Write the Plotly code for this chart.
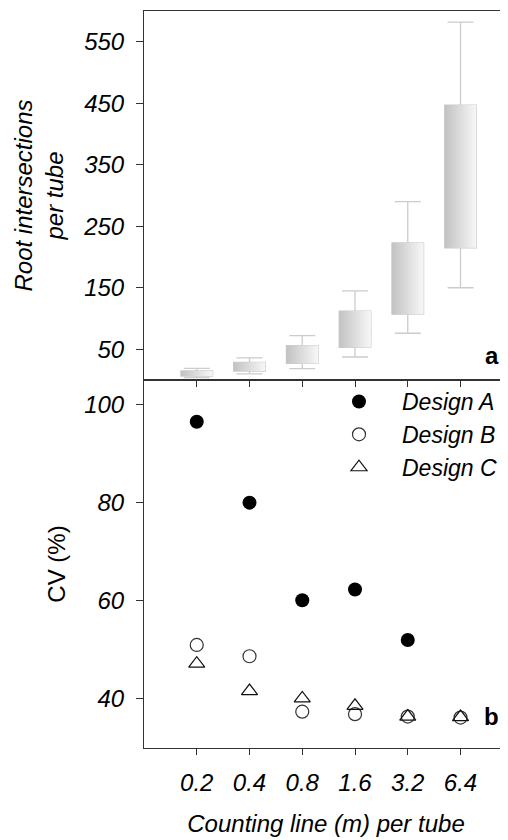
import plotly.graph_objects as go

# ---- data ----
categories = ["0.2", "0.4", "0.8", "1.6", "3.2", "6.4"]
positions = [1, 2, 3, 4, 5, 6]

# panel a: root intersections per tube (box statistics)
upper_whisker = [19, 36, 72, 145, 290, 582]
q3_vals = [14.6, 28.7, 56, 112, 223, 447]
median_vals = [10.8, 21.7, 40.6, 80, 159, 319]
q1_vals = [6.5, 14.6, 27, 53, 107, 215]
lower_whisker = [3.7, 9.8, 18.4, 37.4, 76, 150]

# panel b: CV (%)
design_a = [96.5, 80.0, 60.1, 62.3, 52.0, None]
design_b = [51.0, 48.7, 37.4, 36.9, 36.4, 36.2]
design_c = [47.2, 41.6, 40.1, 38.6, 36.4, 36.3]

FONT = "Liberation Sans, Arial, sans-serif"
AX = "#333333"
BOX_W = 0.6

fig = go.Figure()

# gradient box bodies
for p, lo, hi in zip(positions, q1_vals, q3_vals):
    fig.add_trace(go.Scatter(
        x=[p - BOX_W / 2, p + BOX_W / 2, p + BOX_W / 2, p - BOX_W / 2, p - BOX_W / 2],
        y=[lo, lo, hi, hi, lo],
        mode="lines", fill="toself", line=dict(width=0),
        fillgradient=dict(type="horizontal",
                          colorscale=[[0, "#c2c2c2"], [1, "#f7f7f7"]]),
        showlegend=False, hoverinfo="skip", xaxis="x", yaxis="y2"))

# box outlines, medians, whiskers
fig.add_trace(go.Box(
    x=positions, q1=q1_vals, median=median_vals, q3=q3_vals,
    lowerfence=lower_whisker, upperfence=upper_whisker,
    width=BOX_W, whiskerwidth=0.82, boxpoints=False,
    line=dict(color="#cccccc", width=1.3), fillcolor="rgba(0,0,0,0)",
    showlegend=False, xaxis="x", yaxis="y2"))

# panel b scatter
fig.add_trace(go.Scatter(
    x=positions, y=design_a, mode="markers", name="Design A",
    marker=dict(symbol="circle", size=14, color="black"),
    xaxis="x2", yaxis="y"))
fig.add_trace(go.Scatter(
    x=positions, y=design_b, mode="markers", name="Design B",
    marker=dict(symbol="circle-open", size=13, color="#333333",
                line=dict(width=1.2, color="#333333")),
    xaxis="x2", yaxis="y"))
fig.add_trace(go.Scatter(
    x=positions, y=design_c, mode="markers", name="Design C",
    marker=dict(symbol="triangle-up-open", size=14, color="#111111",
                line=dict(width=1.2, color="#111111")),
    xaxis="x2", yaxis="y"))

split = 368 / 737
tickfont = dict(family=FONT, size=24, color="black", style="italic")

common_x = dict(range=[0, 6.9], tickvals=positions, ticktext=categories,
                showline=True, mirror=True, linecolor=AX, linewidth=1,
                ticks="outside", ticklen=6, tickcolor=AX, showgrid=False,
                zeroline=False, tickfont=tickfont)

# page body adds an 8px offset, so the figure is 8px smaller than the window
fig.update_layout(
    width=500, height=832,
    margin=dict(l=136, r=0, t=3, b=92),
    plot_bgcolor="white", paper_bgcolor="white",
    font=dict(family=FONT, size=24, color="black"),
    xaxis=dict(**common_x, anchor="y2", showticklabels=False),
    xaxis2=dict(**common_x, anchor="y", matches="x", ticklabelstandoff=7,
                title=dict(text="Counting line (m) per tube",
                           font=dict(family=FONT, size=24, style="italic"),
                           standoff=20)),
    yaxis2=dict(domain=[split, 1], range=[0, 600],
                tickvals=[50, 150, 250, 350, 450, 550],
                showline=True, linecolor=AX, linewidth=1, ticks="outside",
                ticklen=7, tickcolor=AX, showgrid=False, zeroline=False,
                tickfont=tickfont, anchor="x", ticklabelstandoff=7,
                title=dict(text="Root intersections<br>per tube",
                           font=dict(family=FONT, size=24, style="italic"),
                           standoff=12)),
    yaxis=dict(domain=[0, split], range=[30, 105],
               tickvals=[40, 60, 80, 100],
               showline=True, linecolor=AX, linewidth=1, ticks="outside",
               ticklen=7, tickcolor=AX, showgrid=False, zeroline=False,
               tickfont=tickfont, anchor="x2", ticklabelstandoff=7,
               title=dict(text="CV (%)",
                          font=dict(family=FONT, size=24),
                          standoff=11)),
    legend=dict(x=0.4725, y=split, xanchor="left", yanchor="top",
                itemwidth=76, bgcolor="rgba(0,0,0,0)",
                font=dict(family=FONT, size=23, style="italic"),
                tracegroupgap=0),
    annotations=[
        dict(text="<b>a</b>", x=0.981, y=0.532, xref="paper", yref="paper",
             showarrow=False, font=dict(family=FONT, size=24)),
        dict(text="<b>b</b>", x=0.981, y=0.022, xref="paper", yref="paper",
             showarrow=False, font=dict(family=FONT, size=24)),
    ],
)

fig.write_html("out.html")
